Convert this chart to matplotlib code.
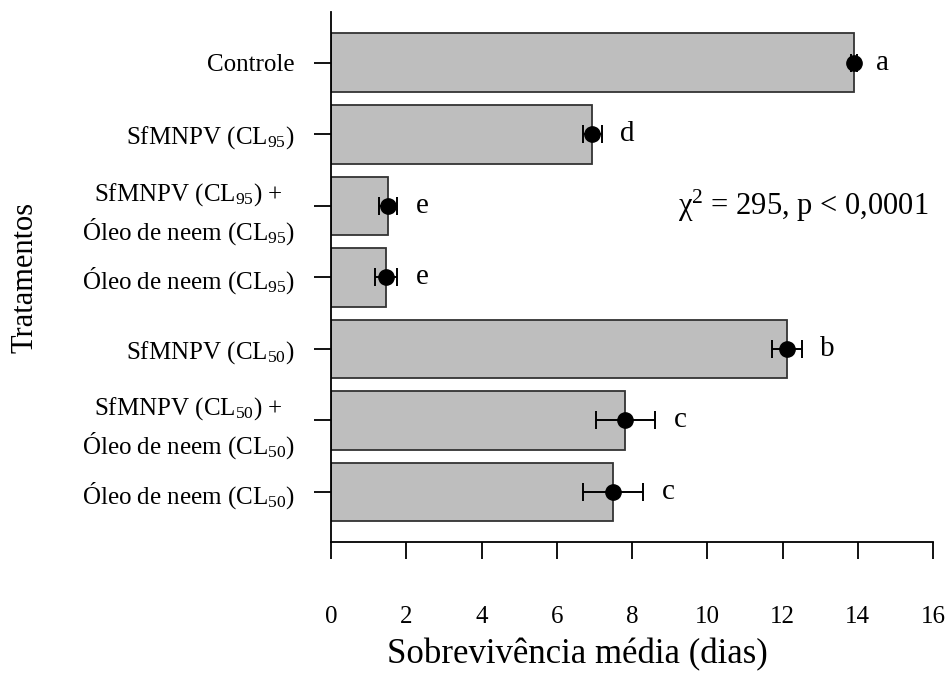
import numpy as np
import matplotlib
matplotlib.use("Agg")
import matplotlib.pyplot as plt

plt.rcParams['font.family'] = ['Liberation Serif', 'DejaVu Serif']
plt.rcParams['mathtext.fontset'] = 'custom'
plt.rcParams['mathtext.rm'] = 'Liberation Serif'
plt.rcParams['mathtext.it'] = 'Liberation Serif:italic'

# treatments, top to bottom
tratamentos = [
    "Controle",
    "SfMNPV (CL$_{95}$)",
    "SfMNPV (CL$_{95}$) +\nÓleo de neem (CL$_{95}$)",
    "Óleo de neem (CL$_{95}$)",
    "SfMNPV (CL$_{50}$)",
    "SfMNPV (CL$_{50}$) +\nÓleo de neem (CL$_{50}$)",
    "Óleo de neem (CL$_{50}$)",
]
media = [13.91, 6.94, 1.52, 1.46, 12.12, 7.82, 7.50]
erro = [0.08, 0.25, 0.24, 0.30, 0.40, 0.78, 0.80]
letras = ["a", "d", "e", "e", "b", "c", "c"]

fig = plt.figure(figsize=(9.49, 6.76), dpi=100)
ax = fig.add_axes([331/949, 1-542/676, (933-331)/949, (542-12)/676])

y = np.arange(len(tratamentos))
ax.barh(y, media, height=0.82, color="#bebebe", edgecolor="#333333", linewidth=1.3)
ax.errorbar(media, y, xerr=erro, fmt="o", color="black", markersize=11,
            elinewidth=1.4, capsize=6.5, capthick=1.4)

for yi, m, e, l in zip(y, media, erro, letras):
    ax.text(m + e + 0.68, yi, l, ha="center", va="center", fontsize=21)

ax.text(12.55, 2.0, "χ$^{2}$ = 295, p < 0,0001", ha="center", va="center", fontsize=22)

ax.set_xlim(0, 16)
ax.set_ylim(6.70, -0.71)
ax.set_xticks(np.arange(0, 17, 2))
ax.set_yticks(y)
ax.set_yticklabels(tratamentos, fontsize=18, multialignment="center", linespacing=1.35)
ax.tick_params(axis="x", labelsize=18, length=12, width=1.3, pad=34)
ax.tick_params(axis="y", length=12, width=1.3, pad=14)

for s in ["top", "right"]:
    ax.spines[s].set_visible(False)
for s in ["left", "bottom"]:
    ax.spines[s].set_linewidth(1.3)

ax.set_xlabel("Sobrevivência média (dias)", fontsize=25)
ax.set_ylabel("Tratamentos", fontsize=22)
ax.xaxis.set_label_coords(0.41, -0.213)
ax.xaxis.label.set_va("center")
ax.yaxis.set_label_coords(-0.508, 0.5)
ax.yaxis.label.set_va("center")

fig.savefig("out.png", dpi=100)
